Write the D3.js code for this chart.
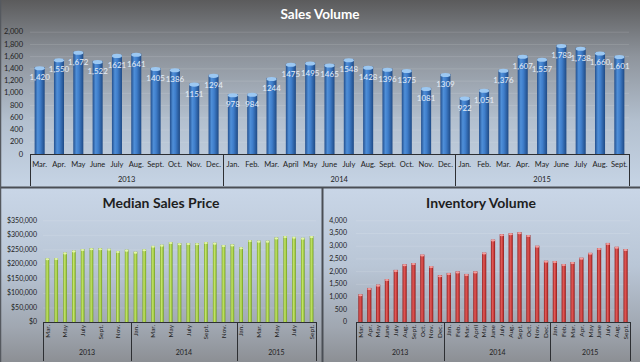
<!DOCTYPE html>
<html lang="en">
<head>
    <meta charset="UTF-8">
    <title>Sales Volume / Median Sales Price / Inventory Volume</title>
    <script src="https://d3js.org/d3.v7.min.js"></script>
    <style>
        body { margin: 0; background: #777; }
        svg { display: block; font-family: Lato, "Open Sans", sans-serif; }
        .tick-label { fill: #222; }
        .bar-label { fill: #e6edf7; font-size: 8px; }
    </style>
</head>
<body>
    <svg width="640" height="362"></svg>
    <script>
        // month labels, Mar. 2013 -> Sept. 2015
        const months = ["Mar.", "Apr.", "May", "June", "July", "Aug.", "Sept.", "Oct.", "Nov.", "Dec.",
            "Jan.", "Feb.", "Mar.", "April", "May", "June", "July", "Aug.", "Sept.", "Oct.", "Nov.", "Dec.",
            "Jan.", "Feb.", "Mar.", "Apr.", "May", "June", "July", "Aug.", "Sept."];
        const years = ["2013", "2014", "2015"];
        const monthsPerYear = [10, 12, 9];

        const salesVolume = [1420, 1550, 1672, 1522, 1621, 1641, 1405, 1386, 1151, 1294,
            978, 984, 1244, 1475, 1495, 1465, 1548, 1428, 1396, 1375, 1081, 1309,
            922, 1051, 1376, 1607, 1557, 1783, 1738, 1660, 1601];
        // labels as printed on the chart (formatting is mixed in the original)
        const salesLabels = ["1,420", "1,550", "1,672", "1,522", "1621", "1641", "1405", "1386", "1151", "1294",
            "978", "984", "1244", "1475", "1495", "1465", "1548", "1428", "1396", "1375", "1081", "1309",
            "922", "1,051", "1,376", "1,607", "1,557", "1,783", "1,738", "1,660", "1,601"];

        const medianPrice = [219000, 220000, 239000, 246000, 251000, 254000, 254000, 252000, 244000, 249000,
            242000, 250000, 262000, 266000, 275000, 271000, 272000, 271000, 275000, 273000, 265000, 267000,
            257000, 282000, 280000, 280000, 291000, 296000, 293000, 290000, 296000];

        const inventory = [1090, 1340, 1470, 1690, 2050, 2270, 2320, 2650, 2200, 1840,
            1930, 1990, 1890, 1990, 2730, 3240, 3450, 3490, 3530, 3420, 3000, 2410,
            2400, 2280, 2360, 2530, 2720, 2910, 3110, 2960, 2870];

        const salesTicks = d3.range(0, 2001, 200);
        const priceTicks = d3.range(0, 350001, 50000);
        const inventoryTicks = d3.range(0, 4001, 500);

        const svg = d3.select("svg");
        const defs = svg.append("defs");

        function vGrad(id, stops) {
            const g = defs.append("linearGradient").attr("id", id)
                .attr("x1", 0).attr("y1", 0).attr("x2", 0).attr("y2", 1);
            stops.forEach(s => g.append("stop").attr("offset", s[0]).attr("stop-color", s[1]));
        }
        function hGrad(id, stops) {
            const g = defs.append("linearGradient").attr("id", id)
                .attr("x1", 0).attr("y1", 0).attr("x2", 1).attr("y2", 0);
            stops.forEach(s => g.append("stop").attr("offset", s[0]).attr("stop-color", s[1]));
        }

        vGrad("bgTop", [[0, "#5b5b5c"], [0.3, "#8e949c"], [0.65, "#b3c0cf"], [1, "#c6d4e5"]]);
        vGrad("bgBottom", [[0, "#c9d6e7"], [0.45, "#b9c6d6"], [0.8, "#a0a7b1"], [1, "#8c8f94"]]);
        hGrad("blueBar", [[0, "#234f8d"], [0.3, "#4f8fd8"], [0.55, "#3f7ecb"], [1, "#1f4a85"]]);
        hGrad("greenBar", [[0, "#7aa426"], [0.4, "#c4e46a"], [0.7, "#a2cc44"], [1, "#6e9620"]]);
        hGrad("redBar", [[0, "#952020"], [0.4, "#e05a58"], [0.7, "#c83c3a"], [1, "#861a1a"]]);

        // backgrounds
        svg.append("rect").attr("x", 0).attr("y", 0).attr("width", 640).attr("height", 187)
            .attr("fill", "url(#bgTop)");
        svg.append("rect").attr("x", 0).attr("y", 188).attr("width", 322).attr("height", 174)
            .attr("fill", "url(#bgBottom)");
        svg.append("rect").attr("x", 323).attr("y", 188).attr("width", 317).attr("height", 174)
            .attr("fill", "url(#bgBottom)");

        // panel borders
        svg.append("line").attr("x1", 0).attr("x2", 640).attr("y1", 187.5).attr("y2", 187.5)
            .attr("stroke", "#4a4e55").attr("stroke-width", 2);
        svg.append("line").attr("x1", 322.5).attr("x2", 322.5).attr("y1", 187).attr("y2", 362)
            .attr("stroke", "#4a4e55").attr("stroke-width", 2);
        svg.append("line").attr("x1", 0.5).attr("x2", 0.5).attr("y1", 0).attr("y2", 362)
            .attr("stroke", "#55595f").attr("stroke-width", 1.5);

        function drawPanel(p) {
            const g = svg.append("g");
            const x = d3.scaleBand().domain(d3.range(p.values.length))
                .range([p.x0, p.x1]).paddingInner(p.pad).paddingOuter(p.pad / 2);
            const y = d3.scaleLinear().domain([0, p.max]).range([p.yBase, p.yTop]);

            // title
            g.append("text").attr("x", p.titleX).attr("y", p.titleY)
                .attr("text-anchor", "middle")
                .attr("font-size", p.titleSize).attr("font-weight", "bold")
                .attr("fill", p.titleColor)
                .text(p.title);

            // faint gridlines
            g.selectAll(".grid").data(p.ticks.slice(1)).enter().append("line")
                .attr("x1", p.x0).attr("x2", p.x1)
                .attr("y1", d => y(d) + 0.5).attr("y2", d => y(d) + 0.5)
                .attr("stroke", "#ffffff").attr("stroke-opacity", 0.12);

            // y tick labels
            g.selectAll(".ytick").data(p.ticks).enter().append("text")
                .attr("class", "tick-label")
                .attr("x", p.yLabelX).attr("y", d => y(d)).attr("dy", "0.35em")
                .attr("text-anchor", "end").attr("font-size", p.tickSize)
                .text(p.fmt);

            // bars
            const bw = x.bandwidth();
            g.selectAll(".bar").data(p.values).enter().append("rect")
                .attr("x", (d, i) => x(i)).attr("width", bw)
                .attr("y", d => y(d)).attr("height", d => p.yBase - y(d))
                .attr("fill", p.fill);
            g.selectAll(".cap").data(p.values).enter().append("ellipse")
                .attr("cx", (d, i) => x(i) + bw / 2).attr("cy", d => y(d) + 1)
                .attr("rx", bw / 2).attr("ry", Math.max(1, bw / 5))
                .attr("fill", p.capFill);

            // x axis line
            g.append("line").attr("x1", p.x0).attr("x2", p.x1)
                .attr("y1", p.yBase + 0.5).attr("y2", p.yBase + 0.5)
                .attr("stroke", "#2d2f33");

            // month labels
            p.monthIdx.forEach(i => {
                const cx = x(i) + bw / 2;
                if (p.rotate) {
                    g.append("text").attr("class", "tick-label")
                        .attr("transform", `translate(${cx},${p.yBase + 3}) rotate(-90)`)
                        .attr("text-anchor", "end").attr("dy", "0.35em")
                        .attr("font-size", p.monthSize)
                        .text(months[i]);
                } else {
                    g.append("text").attr("class", "tick-label")
                        .attr("x", cx).attr("y", p.monthY)
                        .attr("text-anchor", "middle").attr("font-size", p.monthSize)
                        .text(months[i]);
                }
            });

            // year groups
            let start = 0;
            const edges = [p.x0];
            years.forEach((yr, k) => {
                const end = start + monthsPerYear[k];
                const left = k === 0 ? p.x0 : x(start) - x.step() * x.paddingInner() / 2;
                const right = k === years.length - 1 ? p.x1 : x(end) - x.step() * x.paddingInner() / 2;
                edges.push(right);
                g.append("text").attr("class", "tick-label")
                    .attr("x", (left + right) / 2).attr("y", p.yearY)
                    .attr("text-anchor", "middle").attr("font-size", p.yearSize)
                    .text(yr);
                start = end;
            });
            g.selectAll(".sep").data(edges).enter().append("line")
                .attr("x1", d => Math.round(d) + 0.5).attr("x2", d => Math.round(d) + 0.5)
                .attr("y1", p.yBase).attr("y2", p.sepBottom)
                .attr("stroke", "#2d2f33");

            return { g, x, y, bw };
        }

        const salesPanel = drawPanel({
            values: salesVolume, max: 2000, ticks: salesTicks, fmt: d3.format(","),
            x0: 30, x1: 629, pad: 0.48, yBase: 154, yTop: 31.7,
            title: "Sales Volume", titleX: 320, titleY: 19, titleSize: 13.5, titleColor: "#ffffff",
            yLabelX: 23, tickSize: 7.5,
            fill: "url(#blueBar)", capFill: "#9cc8f2",
            monthIdx: d3.range(salesVolume.length), rotate: false, monthY: 167, monthSize: 7.5,
            yearY: 182, yearSize: 7.5, sepBottom: 186
        });

        // value labels on sales bars
        salesPanel.g.selectAll(".bar-label").data(salesVolume).enter().append("text")
            .attr("class", "bar-label")
            .attr("x", (d, i) => salesPanel.x(i) + salesPanel.bw / 2)
            .attr("y", d => salesPanel.y(d) + 13)
            .attr("text-anchor", "middle")
            .text((d, i) => salesLabels[i]);

        drawPanel({
            values: medianPrice, max: 350000, ticks: priceTicks, fmt: d => "$" + d3.format(",")(d),
            x0: 43, x1: 316, pad: 0.58, yBase: 322, yTop: 220.3,
            title: "Median Sales Price", titleX: 161, titleY: 208, titleSize: 14, titleColor: "#1e1e1e",
            yLabelX: 37, tickSize: 7,
            fill: "url(#greenBar)", capFill: "#e2f5a8",
            monthIdx: d3.range(0, medianPrice.length, 2), rotate: true, monthSize: 6.5,
            yearY: 355, yearSize: 7, sepBottom: 361
        });

        drawPanel({
            values: inventory, max: 4000, ticks: inventoryTicks, fmt: d3.format(","),
            x0: 356, x1: 630, pad: 0.52, yBase: 322, yTop: 220.3,
            title: "Inventory Volume", titleX: 481, titleY: 208, titleSize: 14, titleColor: "#1e1e1e",
            yLabelX: 347, tickSize: 7,
            fill: "url(#redBar)", capFill: "#f2a0a0",
            monthIdx: d3.range(inventory.length), rotate: true, monthSize: 6.5,
            yearY: 355, yearSize: 7, sepBottom: 361
        });
    </script>
</body>
</html>
